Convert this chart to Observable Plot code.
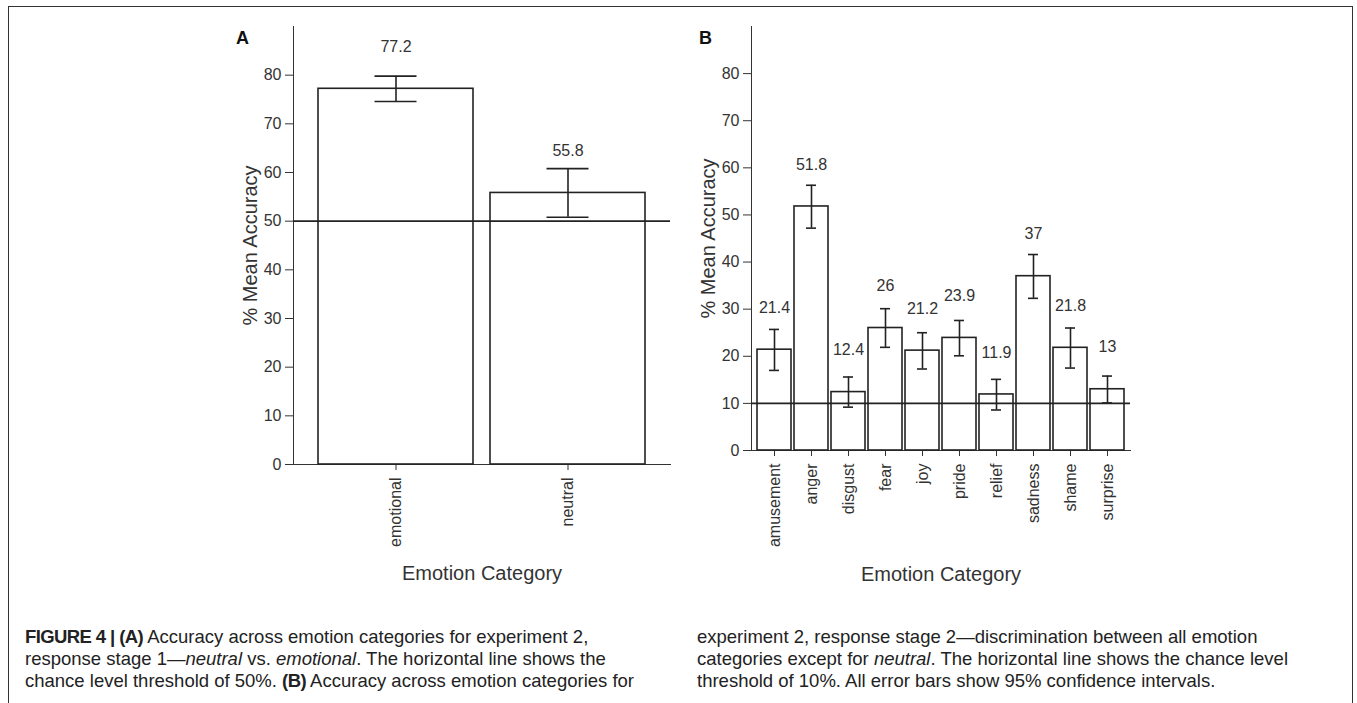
<!DOCTYPE html>
<html>
<head>
<meta charset="utf-8">
<script src="https://cdn.jsdelivr.net/npm/d3@7"></script>
<script src="https://cdn.jsdelivr.net/npm/@observablehq/plot@0.6"></script>
<style>
  html, body { margin: 0; padding: 0; background: #fff; }
  body { width: 1357px; height: 703px; position: relative; overflow: hidden; }
  #frame { position: absolute; left: 8px; top: 6px; width: 1343px; height: 760px;
           border: 1.5px solid #333; border-bottom: none; }
  #panelA { position: absolute; left: 200px; top: 0px; }
  #panelB { position: absolute; left: 680px; top: 0px; }
  .cap { position: absolute; top: 626px; font-family: "Liberation Sans", Arial, sans-serif;
         font-size: 18.5px; line-height: 22px; color: #222; white-space: nowrap; }
  .cap b { font-weight: bold; letter-spacing: -0.6px; }
</style>
</head>
<body>
<div id="frame"></div>
<div id="panelA"></div>
<div id="panelB"></div>
<div class="cap" style="left:25px">
<b>FIGURE 4 | (A)</b> Accuracy across emotion categories for experiment 2,<br>
response stage 1—<i>neutral</i> vs. <i>emotional</i>. The horizontal line shows the<br>
chance level threshold of 50%. <b>(B)</b> Accuracy across emotion categories for
</div>
<div class="cap" style="left:697px">
experiment 2, response stage 2—discrimination between all emotion<br>
categories except for <i>neutral</i>. The horizontal line shows the chance level<br>
threshold of 10%. All error bars show 95% confidence intervals.
</div>
<script>
// Panel A data
const catsA = ["emotional", "neutral"];
const meanA = [77.2, 55.8];
const loA = [74.6, 50.8];
const hiA = [79.8, 60.8];
const chanceA = 50;

// Panel B data
const catsB = ["amusement", "anger", "disgust", "fear", "joy", "pride", "relief", "sadness", "shame", "surprise"];
const meanB = [21.4, 51.8, 12.4, 26, 21.2, 23.9, 11.9, 37, 21.8, 13];
const loB = [17.0, 47.2, 9.2, 21.9, 17.3, 20.1, 8.6, 32.3, 17.5, 10.1];
const hiB = [25.7, 56.3, 15.6, 30.1, 25.0, 27.6, 15.1, 41.6, 26.0, 15.8];
const chanceB = 10;

const yTicks = [0, 10, 20, 30, 40, 50, 60, 70, 80];
const yLabel = "% Mean Accuracy";
const xLabel = "Emotion Category";

function panel(cats, mean, lo, hi, chance, letter, opts) {
  const data = cats.map((c, i) => ({cat: c, mean: mean[i], lo: lo[i], hi: hi[i]}));
  return Plot.plot({
    width: opts.width,
    height: 600,
    marginLeft: opts.ml,
    marginRight: opts.mr,
    marginTop: 26,
    marginBottom: opts.mb,
    style: {fontFamily: "'Liberation Sans', Arial, sans-serif", fontSize: "16px", color: "#333", background: "transparent"},
    x: {domain: cats, paddingInner: opts.pi, paddingOuter: opts.po, tickRotate: -90, tickSize: 6, tickPadding: 7, line: true, label: null},
    y: {domain: [0, 90], ticks: yTicks, tickSize: 8, tickPadding: 4, line: true, label: null},
    marks: [
      Plot.barY(data, {x: "cat", y: "mean", fill: "white", stroke: "#222", strokeWidth: 1.6}),
      Plot.ruleY([chance], {stroke: "#222", strokeWidth: 1.6}),
      Plot.ruleX(data, {x: "cat", y1: "lo", y2: "hi", stroke: "#222", strokeWidth: 1.6}),
      Plot.tickY(data, {x: "cat", y: "lo", stroke: "#222", strokeWidth: 1.6, insetLeft: opts.capInset, insetRight: opts.capInset}),
      Plot.tickY(data, {x: "cat", y: "hi", stroke: "#222", strokeWidth: 1.6, insetLeft: opts.capInset, insetRight: opts.capInset}),
      Plot.text(data, {x: "cat", y: "mean", text: d => String(d.mean), dy: -42, fontSize: 16, fill: "#333"}),
      Plot.text([xLabel], {frameAnchor: "bottom", textAnchor: "middle", lineAnchor: "middle", dy: opts.xlabDy, fontSize: 20, fill: "#333"}),
      Plot.text([yLabel], {frameAnchor: "left", textAnchor: "middle", lineAnchor: "middle", rotate: -90, dx: -43, fontSize: 20, fill: "#333"}),
      Plot.text([letter], {frameAnchor: "top-left", textAnchor: "middle", lineAnchor: "middle", dx: opts.letterDx, dy: 12, fontSize: 18, fontWeight: "bold", fill: "#111"})
    ]
  });
}

document.getElementById("panelA").append(panel(catsA, meanA, loA, hiA, chanceA, "A",
  {width: 490, ml: 93, mr: 20, mb: 136, pi: 0.1, po: 0.145, capInset: 56.5, xlabDy: 109, letterDx: -51}));
document.getElementById("panelB").append(panel(catsB, meanB, loB, hiB, chanceB, "B",
  {width: 500, ml: 71, mr: 50, mb: 150, pi: 0.084, po: 0.15, capInset: 12, xlabDy: 124, letterDx: -46}));
</script>
</body>
</html>
